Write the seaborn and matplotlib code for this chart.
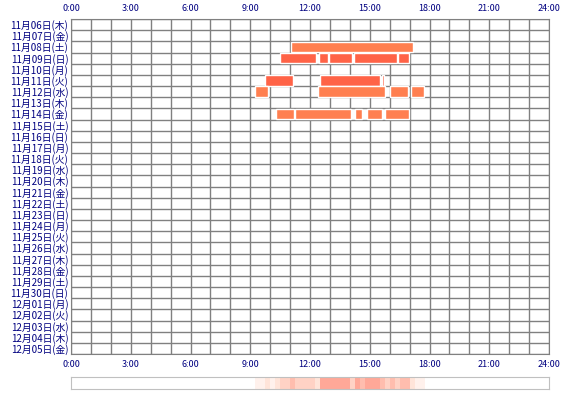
import numpy as np
import pandas as pd
import matplotlib
matplotlib.use("Agg")
import matplotlib.pyplot as plt
import seaborn as sns
from matplotlib.colors import LinearSegmentedColormap

sns.set_style("white")
plt.rcParams['font.family'] = ['Noto Sans CJK JP', 'DejaVu Sans']

# day labels (rows, top to bottom)
dates = pd.date_range("2025-11-06", "2025-12-05")
weekdays = ["月", "火", "水", "木", "金", "土", "日"]
day_labels = [f"{d.month}月{d.day:02d}日({weekdays[d.weekday()]})" for d in dates]

# activity sessions per day: (row label index, start hour, end hour)
row_idx = [2, 3, 3, 3, 3, 3, 5, 5, 5, 6, 6, 6, 6, 8, 8, 8, 8, 8]
starts = [11.03, 10.49, 12.45, 12.95, 14.19, 16.42, 9.74, 12.50, 15.61, 9.24, 12.40, 16.00, 17.05,
          10.29, 11.23, 14.26, 14.86, 15.76]
ends = [17.15, 12.30, 12.90, 14.12, 16.35, 16.97, 11.13, 15.50, 15.70, 9.89, 15.76, 16.90, 17.72,
        11.19, 14.05, 14.60, 15.61, 16.97]
row_colors = {2: "#FF7F50", 3: "#FF6347", 5: "#FF6347", 6: "#FF7F50", 8: "#FF7F50"}

df = pd.DataFrame({"row": row_idx, "start": starts, "end": ends})

fig = plt.figure(figsize=(5.7, 4.0), dpi=100)
ax = fig.add_axes([71 / 570, 1 - 354 / 400, 478 / 570, 335 / 400])
n = len(day_labels)

for h in range(25):
    ax.axvline(h, color="#808080", lw=1, zorder=1)
for i in range(n + 1):
    ax.axhline(i - 0.5, color="#808080", lw=1, zorder=1)

for _, r in df.iterrows():
    ax.barh(r["row"], r["end"] - r["start"], left=r["start"], height=0.92,
            color=row_colors[int(r["row"])], zorder=3)

ax.set_xlim(0, 24)
ax.set_ylim(n - 0.5, -0.5)
for s in ax.spines.values():
    s.set_color("#808080")

ax.set_yticks(range(n))
ax.set_yticklabels(day_labels, fontsize=7, color="#000080")
ax.set_xticks(range(0, 25, 3))
ax.set_xticklabels([f"{h}:00" for h in range(0, 25, 3)], fontsize=6.5, color="#000080")
ax.tick_params(axis="x", top=True, labeltop=True, length=0, pad=4)
ax.tick_params(axis="y", length=0, pad=2)

# bottom strip: how many days were active at each quarter hour
bins = np.arange(0, 24, 0.25)
cover = np.zeros(len(bins))
for s, e in zip(starts, ends):
    cover += ((bins + 0.125 > s) & (bins + 0.125 < e))
cmap = LinearSegmentedColormap.from_list("s", ["#FFFFFF", "#FFDDD0", "#FFA898"])
ax2 = fig.add_axes([71 / 570, 1 - 389 / 400, 478 / 570, 12 / 400])
sns.heatmap(cover[None, :], ax=ax2, cmap=cmap, vmin=0, vmax=cover.max(), cbar=False,
            xticklabels=False, yticklabels=False)
for s in ax2.spines.values():
    s.set_visible(True)
    s.set_color("#C0C0C0")

fig.savefig("out.png", dpi=100)
